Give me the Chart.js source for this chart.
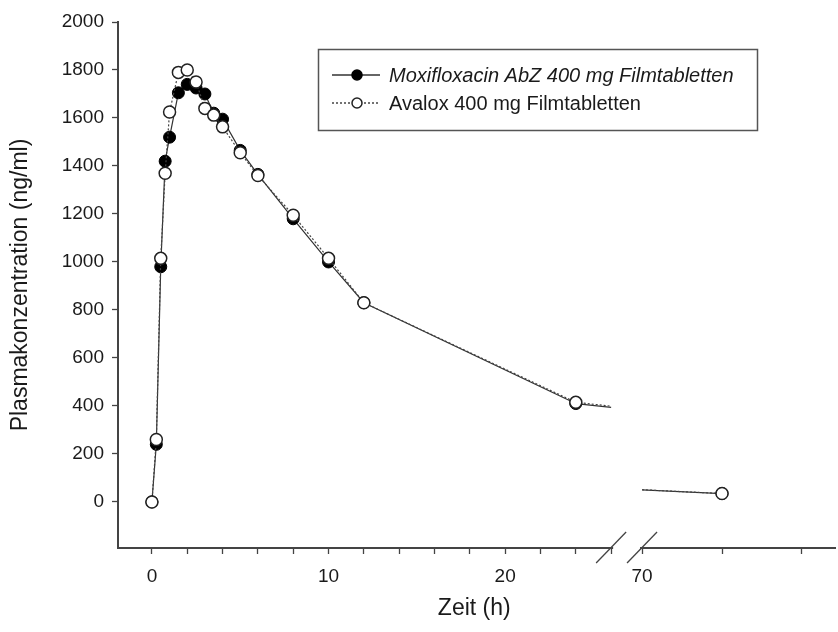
<!DOCTYPE html>
<html>
<head>
<meta charset="utf-8">
<script src="https://cdn.jsdelivr.net/npm/chart.js@4.4.0/dist/chart.umd.min.js"></script>
<style>
  html, body { margin: 0; padding: 0; background: #fff; }
  #wrap { width: 838px; height: 632px; position: relative; }
</style>
</head>
<body>
<div id="wrap"><canvas id="chart"></canvas></div>
<script>
// Messzeitpunkte (h) und Konzentrationen (ng/ml)
const zeit = [0, 0.25, 0.5, 0.75, 1, 1.5, 2, 2.5, 3, 3.5, 4, 5, 6, 8, 10, 12, 24, 72];
const moxiAbz = [0, 240, 980, 1420, 1520, 1705, 1740, 1725, 1700, 1620, 1595, 1465, 1365, 1180, 1000, 830, 410, 35];
const avalox = [0, 260, 1015, 1370, 1625, 1790, 1800, 1750, 1640, 1612, 1563, 1455, 1360, 1195, 1015, 830, 415, 35];

const xTicksMajor = [0, 10, 20, 70];
const xTicksMinor = [2, 4, 6, 8, 12, 14, 16, 18, 22, 24, 26, 72, 74];
const yTicks = [0, 200, 400, 600, 800, 1000, 1200, 1400, 1600, 1800, 2000];
const seriesLabels = ['Moxifloxacin AbZ 400 mg Filmtabletten', 'Avalox 400 mg Filmtabletten'];

// Achsenbruch zwischen 26 h und 70 h
const BREAK_A = 26;
const BREAK_B = 70;
const GAP = 1.75;
const SCALE2 = 2.264;

function toAxis(h) {
    return h <= BREAK_A ? h : BREAK_A + GAP + (h - BREAK_B) * SCALE2;
}
function fromAxis(d) {
    return d <= BREAK_A + 0.5 ? d : BREAK_B + (d - BREAK_A - GAP) / SCALE2;
}

const FONT = "'Liberation Sans', Arial, sans-serif";
Chart.defaults.font.family = FONT;

function crossesBreak(i) {
    return zeit[i] <= BREAK_A && zeit[i + 1] >= BREAK_B;
}

const breakStubs = {
    id: 'breakStubs',
    beforeDatasetsDraw(chart) {
        const ctx = chart.ctx;
        const xs = chart.scales.x, ys = chart.scales.y;
        chart.data.datasets.forEach((ds, di) => {
            const vals = di === 0 ? moxiAbz : avalox;
            for (let i = 0; i < zeit.length - 1; i++) {
                if (!crossesBreak(i)) continue;
                const slope = (vals[i + 1] - vals[i]) / (zeit[i + 1] - zeit[i]);
                const vA = vals[i] + slope * (BREAK_A - zeit[i]);
                const vB = vals[i] + slope * (BREAK_B - zeit[i]);
                ctx.save();
                ctx.strokeStyle = ds.borderColor;
                ctx.lineWidth = ds.borderWidth;
                ctx.setLineDash(ds.borderDash || []);
                ctx.beginPath();
                ctx.moveTo(xs.getPixelForValue(toAxis(zeit[i])), ys.getPixelForValue(vals[i]));
                ctx.lineTo(xs.getPixelForValue(toAxis(BREAK_A)), ys.getPixelForValue(vA));
                ctx.moveTo(xs.getPixelForValue(toAxis(BREAK_B)), ys.getPixelForValue(vB));
                ctx.lineTo(xs.getPixelForValue(toAxis(zeit[i + 1])), ys.getPixelForValue(vals[i + 1]));
                ctx.stroke();
                ctx.restore();
            }
        });
    }
};

const axisBreak = {
    id: 'axisBreak',
    afterDraw(chart) {
        const ctx = chart.ctx;
        const xs = chart.scales.x;
        const b = chart.chartArea.bottom;
        const pa = xs.getPixelForValue(toAxis(BREAK_A));
        const pb = xs.getPixelForValue(toAxis(BREAK_B));
        ctx.save();
        ctx.fillStyle = '#fff';
        ctx.fillRect(pa + 2, b - 3, pb - pa - 4, 6);
        ctx.strokeStyle = '#444';
        ctx.lineWidth = 2;
        ctx.beginPath();
        ctx.moveTo(chart.chartArea.right, b);
        ctx.lineTo(chart.width - 2, b);
        ctx.stroke();
        ctx.lineWidth = 1.3;
        [pa, pb].forEach(p => {
            ctx.beginPath();
            ctx.moveTo(p - 15, b + 15);
            ctx.lineTo(p + 15, b - 16);
            ctx.stroke();
        });
        ctx.restore();
    }
};

const boxLegend = {
    id: 'boxLegend',
    afterDraw(chart) {
        const ctx = chart.ctx;
        const left = 318.5, top = 49.5, w = 439, h = 81;
        ctx.save();
        ctx.strokeStyle = '#555';
        ctx.lineWidth = 1.5;
        ctx.strokeRect(left, top, w, h);
        const rows = [75, 103];
        chart.data.datasets.forEach((ds, i) => {
            const y = rows[i];
            ctx.strokeStyle = ds.borderColor;
            ctx.lineWidth = 1.5;
            ctx.setLineDash(ds.borderDash || []);
            ctx.beginPath();
            ctx.moveTo(332, y);
            ctx.lineTo(380, y);
            ctx.stroke();
            ctx.setLineDash([]);
            ctx.beginPath();
            ctx.arc(357, y, 5, 0, Math.PI * 2);
            ctx.fillStyle = ds.pointBackgroundColor;
            ctx.fill();
            ctx.lineWidth = 1.5;
            ctx.strokeStyle = ds.pointBorderColor;
            ctx.stroke();
            ctx.fillStyle = '#1a1a1a';
            ctx.font = (i === 0 ? 'italic ' : '') + '20px ' + FONT;
            ctx.textBaseline = 'middle';
            ctx.fillText(ds.label, 389, y + 1);
        });
        ctx.restore();
    }
};

new Chart(document.getElementById('chart'), {
    type: 'line',
    data: {
        datasets: [
            {
                label: seriesLabels[0],
                data: zeit.map((t, i) => ({ x: toAxis(t), y: moxiAbz[i] })),
                borderColor: '#333',
                borderWidth: 1.2,
                pointRadius: 6,
                pointBackgroundColor: '#000',
                pointBorderColor: '#000',
                pointBorderWidth: 1,
                order: 1,
                segment: {
                    borderColor: c => crossesBreak(c.p0DataIndex) ? 'rgba(0,0,0,0)' : undefined
                }
            },
            {
                label: seriesLabels[1],
                data: zeit.map((t, i) => ({ x: toAxis(t), y: avalox[i] })),
                borderColor: '#444',
                borderWidth: 1.2,
                borderDash: [2, 2],
                pointRadius: 6,
                pointBackgroundColor: '#fff',
                pointBorderColor: '#222',
                pointBorderWidth: 1.5,
                order: 0,
                segment: {
                    borderColor: c => crossesBreak(c.p0DataIndex) ? 'rgba(0,0,0,0)' : undefined
                }
            }
        ]
    },
    options: {
        responsive: true,
        maintainAspectRatio: false,
        animation: false,
        layout: { padding: { left: 0, top: 22, right: 2, bottom: 0 } },
        plugins: {
            legend: { display: false },
            tooltip: { enabled: false }
        },
        scales: {
            x: {
                type: 'linear',
                min: -1.92,
                max: 38.42,
                afterBuildTicks: scale => {
                    scale.ticks = xTicksMajor.concat(xTicksMinor)
                        .sort((a, b) => a - b)
                        .map(h => ({ value: toAxis(h) }));
                },
                afterFit: scale => { scale.height = 84; },
                grid: { drawOnChartArea: false, tickLength: 6, tickColor: '#444', tickWidth: 1.3 },
                border: { color: '#444', width: 2 },
                ticks: {
                    autoSkip: false,
                    maxRotation: 0,
                    padding: 11,
                    color: '#1a1a1a',
                    font: { size: 19 },
                    callback: v => {
                        const h = Math.round(fromAxis(v));
                        return xTicksMajor.includes(h) ? String(h) : '';
                    }
                },
                title: {
                    display: true,
                    text: 'Zeit (h)',
                    color: '#1a1a1a',
                    font: { size: 23 },
                    padding: { top: 0, bottom: 10 }
                }
            },
            y: {
                min: -192,
                max: 2000,
                afterBuildTicks: scale => {
                    scale.ticks = yTicks.map(v => ({ value: v }));
                },
                afterFit: scale => { scale.width = 118; },
                grid: { drawOnChartArea: false, tickLength: 6, tickColor: '#444', tickWidth: 1.3 },
                border: { color: '#444', width: 2 },
                ticks: {
                    padding: 8,
                    color: '#1a1a1a',
                    font: { size: 19 },
                    callback: v => String(v)
                },
                title: {
                    display: true,
                    text: 'Plasmakonzentration (ng/ml)',
                    color: '#1a1a1a',
                    font: { size: 23 },
                    padding: { top: 7, bottom: 0 }
                }
            }
        }
    },
    plugins: [breakStubs, axisBreak, boxLegend]
});
</script>
</body>
</html>
